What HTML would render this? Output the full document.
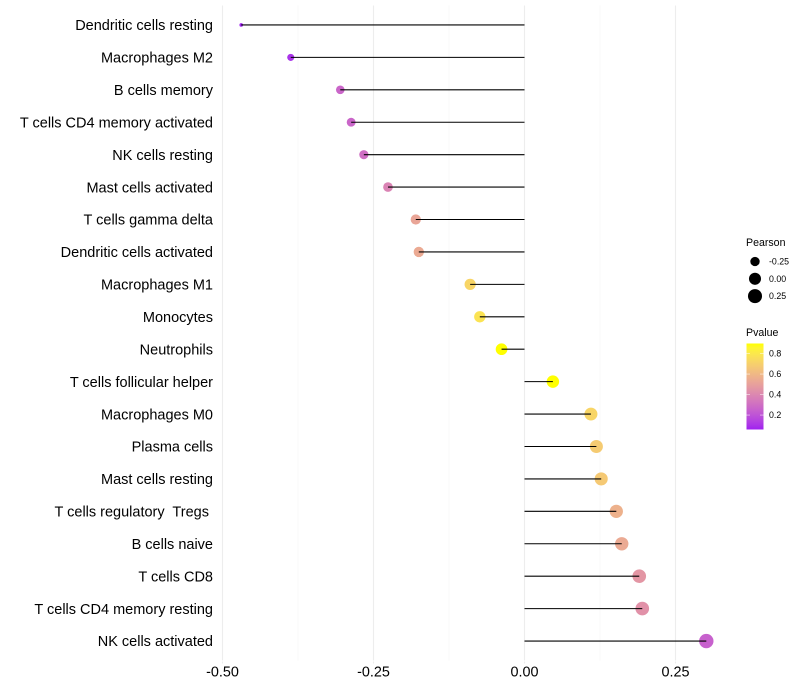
<!DOCTYPE html>
<html lang="en">
<head>
<meta charset="utf-8">
<title>Immune cell correlation lollipop chart</title>
<style>
  html, body { margin: 0; padding: 0; background: #fff; }
  svg { display: block; font-family: "Liberation Sans", sans-serif; }
  text { white-space: pre; fill: #000; }
</style>
</head>
<body>
<svg id="chart" width="800" height="700" viewBox="0 0 800 700" xmlns="http://www.w3.org/2000/svg">
  <g id="grid"></g>
  <g id="dots"></g>
  <g id="stems"></g>
  <g id="y-axis"></g>
  <g id="x-axis"></g>
  <g id="size-legend">
    <text x="746" y="246" font-size="10.6">Pearson</text>
  </g>
  <g id="color-legend">
    <text x="746" y="336" font-size="10.6">Pvalue</text>
    <defs>
      <linearGradient id="pvalue-gradient" x1="0" y1="1" x2="0" y2="0"></linearGradient>
    </defs>
    <rect x="746.5" y="343.5" width="17" height="86" fill="url(#pvalue-gradient)"></rect>
  </g>
</svg>
<script>
const categories = ["Dendritic cells resting","Macrophages M2","B cells memory","T cells CD4 memory activated","NK cells resting","Mast cells activated","T cells gamma delta","Dendritic cells activated","Macrophages M1","Monocytes","Neutrophils","T cells follicular helper","Macrophages M0","Plasma cells","Mast cells resting","T cells regulatory  Tregs ","B cells naive","T cells CD8","T cells CD4 memory resting","NK cells activated"];
const pearson = [-0.469,-0.387,-0.305,-0.287,-0.266,-0.226,-0.18,-0.175,-0.09,-0.074,-0.038,0.047,0.11,0.119,0.127,0.152,0.161,0.19,0.195,0.301];
const pvalue = [0.06,0.1,0.27,0.27,0.3,0.38,0.52,0.54,0.72,0.78,0.9,0.9,0.72,0.68,0.67,0.57,0.54,0.46,0.44,0.25];
const xMajorTicks = [-0.5,-0.25,0,0.25];
const xMinorTicks = [-0.375,-0.125,0.125];
const xTickLabels = ["-0.50","-0.25","0.00","0.25"];
const sizeLegendValues = [-0.25,0,0.25];
const sizeLegendLabels = ["-0.25","0.00","0.25"];
const colorLegendValues = [0.8,0.6,0.4,0.2];
const colorLegendLabels = ["0.8","0.6","0.4","0.2"];
const pearsonRange = [-0.469,0.301];
const pvalueRange = [0.059,0.898];

const NS = "http://www.w3.org/2000/svg";
const panelTop = 5.5, panelBottom = 660.5;
const xScale = v => 524.5 + v * 604;
const yScale = i => panelTop + (i + 0.6) * (panelBottom - panelTop) / (categories.length + 0.2);
const rScale = v => 1.8 + 5.4 * Math.sqrt(Math.max(0, (v - pearsonRange[0]) / (pearsonRange[1] - pearsonRange[0])));

const labLow = [45.36, 78.34, -77.45];
const labHigh = [97.14, -21.55, 94.48];
function labToHex(L, a, b) {
  const fy = (L + 16) / 116, fx = fy + a / 500, fz = fy - b / 200;
  const inv = t => t > 6 / 29 ? t * t * t : 3 * (6 / 29) * (6 / 29) * (t - 4 / 29);
  const X = 0.95047 * inv(fx), Y = inv(fy), Z = 1.08883 * inv(fz);
  const lin = [
    3.2406 * X - 1.5372 * Y - 0.4986 * Z,
    -0.9689 * X + 1.8758 * Y + 0.0415 * Z,
    0.0557 * X - 0.204 * Y + 1.057 * Z
  ];
  return "#" + lin.map(c => {
    c = Math.min(1, Math.max(0, c));
    const s = c <= 0.0031308 ? 12.92 * c : 1.055 * Math.pow(c, 1 / 2.4) - 0.055;
    return Math.round(s * 255).toString(16).padStart(2, "0");
  }).join("");
}
function colorAt(t) {
  t = Math.min(1, Math.max(0, t));
  return labToHex(
    labLow[0] + (labHigh[0] - labLow[0]) * t,
    labLow[1] + (labHigh[1] - labLow[1]) * t,
    labLow[2] + (labHigh[2] - labLow[2]) * t
  );
}
const colorScale = p => colorAt((p - pvalueRange[0]) / (pvalueRange[1] - pvalueRange[0]));

function make(tag, attrs, parent, text) {
  const el = document.createElementNS(NS, tag);
  for (const k in attrs) el.setAttribute(k, attrs[k]);
  if (text !== undefined) el.textContent = text;
  parent.appendChild(el);
  return el;
}

const grid = document.getElementById("grid");
const dots = document.getElementById("dots");
const stems = document.getElementById("stems");
const yAxis = document.getElementById("y-axis");
const xAxis = document.getElementById("x-axis");
const sizeLegend = document.getElementById("size-legend");
const colorLegend = document.getElementById("color-legend");
const gradient = document.getElementById("pvalue-gradient");

xMinorTicks.forEach(v => {
  const el = make("line", {x1: xScale(v), x2: xScale(v), y1: panelTop, y2: panelBottom, stroke: "#f3f3f3", "stroke-width": 0.6}, grid);
  
  
});
xMajorTicks.forEach((v, i) => {
  const el = make("line", {x1: xScale(v), x2: xScale(v), y1: panelTop, y2: panelBottom, stroke: "#ededed", "stroke-width": 1.07}, grid);
  
  
  const tick = make("line", {x1: xScale(v), x2: xScale(v), y1: panelBottom + 1, y2: panelBottom + 3, stroke: "#ededed", "stroke-width": 1.07}, grid);
  
  
  const label = make("text", {x: xScale(v), y: 676.5, "font-size": 14.4, "text-anchor": "middle"}, xAxis, xTickLabels[i]);
  
  
});

categories.forEach((name, i) => {
  const y = yScale(i);
  const label = make("text", {x: 213, y: y + 5.2, "font-size": 14.5, "text-anchor": "end"}, yAxis, name);
  
  
  const dot = make("circle", {cx: xScale(pearson[i]), cy: y, r: rScale(pearson[i]), fill: colorScale(pvalue[i])}, dots);
  
  
  const stem = make("line", {x1: xScale(0), x2: xScale(pearson[i]), y1: y, y2: y, stroke: "#000", "stroke-width": 1.07}, stems);
  
  
});

sizeLegendValues.forEach((v, i) => {
  const y = 261.5 + i * 17.3;
  const dot = make("circle", {cx: 755, cy: y, r: rScale(v), fill: "#000"}, sizeLegend);
  
  
  const label = make("text", {x: 769, y: y + 3, "font-size": 8.8}, sizeLegend, sizeLegendLabels[i]);
  
  
});

for (let s = 0; s <= 20; s++) {
  make("stop", {offset: s / 20, "stop-color": colorAt(s / 20)}, gradient);
}
const barY = p => 429.5 - (p - pvalueRange[0]) / (pvalueRange[1] - pvalueRange[0]) * 86;
colorLegendValues.forEach((p, i) => {
  const y = barY(p);
  const t1 = make("line", {x1: 746.5, x2: 750, y1: y, y2: y, stroke: "#fff", "stroke-width": 0.5}, colorLegend);
  
  
  const t2 = make("line", {x1: 760, x2: 763.5, y1: y, y2: y, stroke: "#fff", "stroke-width": 0.5}, colorLegend);
  
  
  const label = make("text", {x: 769, y: y + 3, "font-size": 8.8}, colorLegend, colorLegendLabels[i]);
  
  
});
</script>
</body>
</html>
